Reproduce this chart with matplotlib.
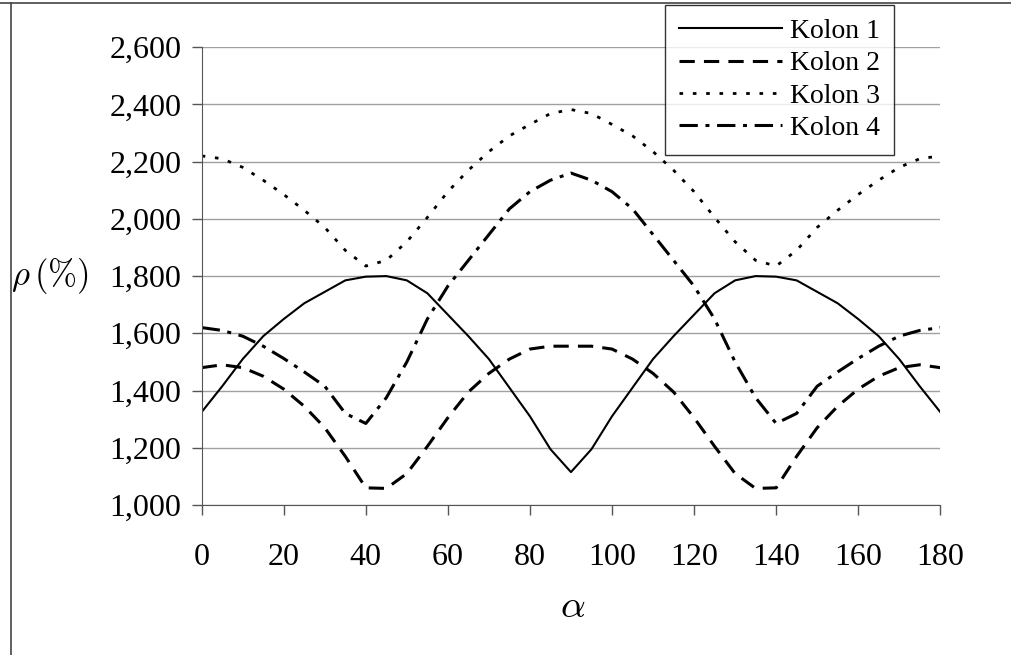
import matplotlib
matplotlib.use("Agg")
import matplotlib.pyplot as plt
from matplotlib.ticker import FuncFormatter, MultipleLocator

# angle alpha, 0..180 every 5 degrees
alpha = list(range(0, 185, 5))

# (0..90), curves are mirrored about 90
k1_half = [1325, 1415, 1510, 1590, 1650, 1705, 1745, 1785, 1798, 1800,
           1785, 1740, 1665, 1590, 1510, 1410, 1310, 1195, 1115]
k2_half = [1480, 1490, 1480, 1450, 1405, 1345, 1270, 1170, 1060, 1058,
           1110, 1205, 1305, 1395, 1460, 1510, 1545, 1555, 1555]
k3_half = [2220, 2210, 2180, 2135, 2085, 2030, 1970, 1890, 1835, 1855,
           1920, 2005, 2095, 2170, 2235, 2290, 2330, 2368, 2382]
k4_half = [1620, 1610, 1590, 1555, 1512, 1465, 1415, 1320, 1285, 1375,
           1500, 1650, 1765, 1855, 1945, 2035, 2095, 2135, 2160]

kolon1 = k1_half + k1_half[-2::-1]
kolon2 = k2_half + k2_half[-2::-1]
kolon3 = k3_half + k3_half[-2::-1]
kolon4 = k4_half + k4_half[-2::-1]

labels = ["Kolon 1", "Kolon 2", "Kolon 3", "Kolon 4"]

serif = "Liberation Serif"
plt.rcParams["mathtext.fontset"] = "cm"

fig = plt.figure(figsize=(10.11, 6.55), dpi=100)
ax = fig.add_axes([0.1995, 0.229, 0.7305, 0.699])

ax.plot(alpha, kolon1, color="black", lw=1.5, label=labels[0])
ax.plot(alpha, kolon2, color="black", lw=2.2, dashes=(5, 3), label=labels[1])
ax.plot(alpha, kolon3, color="black", lw=2.0, dashes=(1.3, 3.5), label=labels[2])
ax.plot(alpha, kolon4, color="black", lw=2.2, dashes=(6, 2.5, 1.3, 2.5), label=labels[3])

ax.set_xlim(0, 180)
ax.set_ylim(1000, 2600)
ax.xaxis.set_major_locator(MultipleLocator(20))
ax.yaxis.set_major_locator(MultipleLocator(200))
ax.yaxis.set_major_formatter(FuncFormatter(lambda v, p: f"{int(v):,}"))

ax.grid(True, axis="y", color="#a0a0a0", lw=1.0)
ax.set_axisbelow(True)
for s in ["top", "right"]:
    ax.spines[s].set_visible(False)
ax.spines["left"].set_color("#555555")
ax.spines["bottom"].set_color("#555555")

ax.tick_params(axis="both", direction="out", length=7, width=1, color="#555555")
ax.tick_params(axis="y", pad=7.5)
ax.tick_params(axis="x", pad=20)
for t in ax.get_xticklabels() + ax.get_yticklabels():
    t.set_fontfamily(serif)
    t.set_fontsize(23)

fig.text(0.011, 0.579, r"$\rho\,(\%)$", fontsize=25, va="center", ha="left")
fig.text(0.566, 0.075, r"$\alpha$", fontsize=28, va="center", ha="center")

leg = fig.legend(loc="upper right", bbox_to_anchor=(0.884, 0.993),
                 prop={"family": serif, "size": 20}, frameon=True,
                 fancybox=False, edgecolor="black", handlelength=3.7,
                 handletextpad=0.3, labelspacing=0.25, borderpad=0.5,
                 borderaxespad=0)
leg.get_frame().set_linewidth(1.0)

# outer frame lines of the scanned figure
fig.add_artist(plt.Line2D([0.0, 1.0], [0.995, 0.995], color="#444444", lw=1.2))
fig.add_artist(plt.Line2D([0.0105, 0.0105], [0.0, 0.995], color="#444444", lw=1.2))

fig.savefig("out.png", dpi=100)
